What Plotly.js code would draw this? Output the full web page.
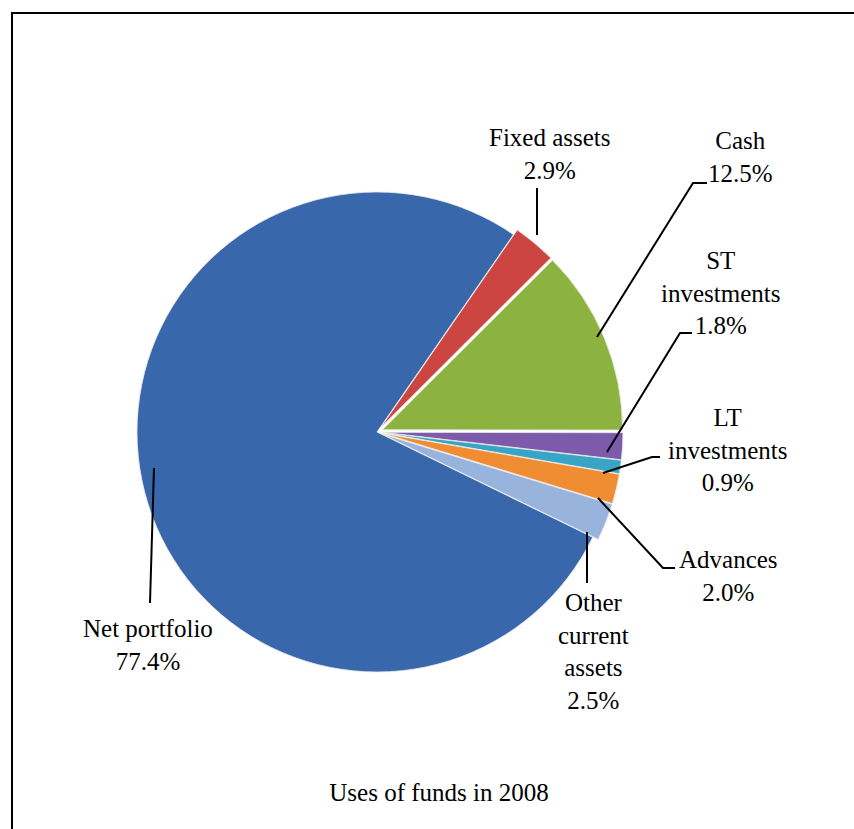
<!DOCTYPE html>
<html><head><meta charset="utf-8">
<script src="https://cdn.plot.ly/plotly-3.0.1.min.js"></script>
<style>html,body{margin:0;padding:0;background:#fff}#chart{width:854px;height:829px}</style>
</head><body><div id="chart"></div>
<script>
// ---- data ----
const categories = ['Net portfolio','Fixed assets','Cash','ST investments','LT investments','Advances','Other current assets'];
const shares = [77.4, 2.9, 12.5, 1.8, 0.9, 2.0, 2.5];
const labelLines = [['Net portfolio'],['Fixed assets'],['Cash'],['ST','investments'],['LT','investments'],['Advances'],['Other','current','assets']];
const titleText = 'Uses of funds in 2008';

// ---- style ----
const colors = ['#3868AB','#CC4541','#8CB240','#7D5BAA','#37A5C3','#F08C32','#98B3DC'];
const pulls = [0, 0.025, 0.025, 0.025, 0.025, 0.025, 0.025];
const W = 854, H = 829;
const px = x => x / W, py = y => 1 - y / H;
const FONT = 'Liberation Serif';

// label centres and leader polylines (page pixels)
const labelPos = [[148,645],[550,154],[740,157],[720,293],[727,450],[728,576],[593,651]];
const leaders = [
  [[150,603],[154,468]],
  [[537,188],[537,235]],
  [[707,183],[693,183],[597,337]],
  [[692,333],[680,333],[607,452]],
  [[660,457],[652,457],[603,473]],
  [[675,568],[663,568],[598,498]],
  [[587,583],[587,532]]
];

const cx = 377, cy = 432, r = 240;
const half = r * (1 + Math.max(...pulls));

const trace = {
  type: 'pie',
  labels: categories,
  values: shares,
  sort: false,
  direction: 'clockwise',
  rotation: 116,
  pull: pulls,
  textinfo: 'none',
  hoverinfo: 'label+percent',
  marker: {colors: colors, line: {color: 'rgba(235,235,235,0.8)', width: 1}},
  domain: {x: [px(cx - half), px(cx + half)], y: [py(cy + half), py(cy - half)]},
  showlegend: false
};

const annotations = categories.map((c, i) => ({
  xref: 'paper', yref: 'paper',
  x: px(labelPos[i][0]), y: py(labelPos[i][1]),
  xanchor: 'center', yanchor: 'middle', align: 'center',
  text: labelLines[i].join('<br>') + '<br>' + shares[i].toFixed(1) + '%',
  showarrow: false,
  font: {family: FONT, size: 25, color: '#000'}
}));

const shapes = leaders.map(pts => ({
  type: 'path', xref: 'paper', yref: 'paper',
  path: pts.map((p, k) => (k ? 'L' : 'M') + px(p[0]) + ',' + py(p[1])).join(' '),
  line: {color: '#000', width: 2}
}));
// frame
shapes.push({
  type: 'path', xref: 'paper', yref: 'paper',
  path: 'M' + px(12) + ',' + py(840) + ' L' + px(12) + ',' + py(13) + ' L' + px(870) + ',' + py(13),
  line: {color: '#000', width: 2}
});

const layout = {
  width: W, height: H,
  margin: {l: 0, r: 0, t: 0, b: 0},
  paper_bgcolor: '#fff',
  font: {family: FONT, size: 25, color: '#000'},
  title: {text: titleText, x: px(439), y: py(792), xanchor: 'center', yanchor: 'middle',
          xref: 'paper', yref: 'paper',
          font: {family: FONT, size: 25, color: '#000'}},
  annotations: annotations,
  shapes: shapes
};

Plotly.newPlot('chart', [trace], layout, {displayModeBar: false, staticPlot: true});
</script></body></html>
